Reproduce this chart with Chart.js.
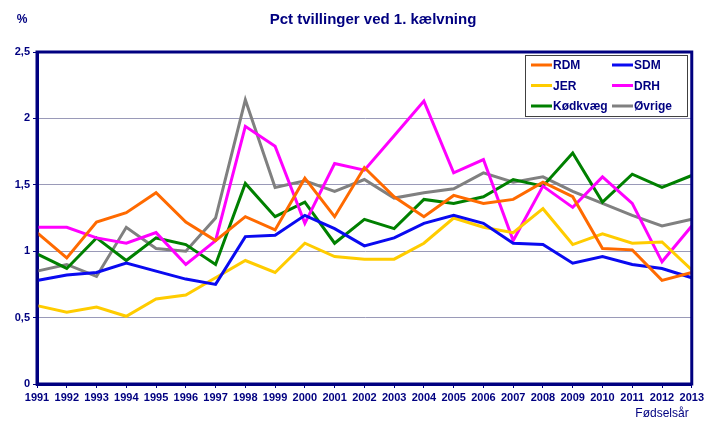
<!DOCTYPE html>
<html>
<head>
<meta charset="utf-8">
<title>Pct tvillinger ved 1. kælvning</title>
<script src="https://cdn.jsdelivr.net/npm/chart.js@4.4.1/dist/chart.umd.min.js"></script>
<style>
    html, body { margin: 0; padding: 0; background: #ffffff; }
    #wrap { width: 707px; height: 421px; }
</style>
</head>
<body>
<div id="wrap"><canvas id="twinChart" width="707" height="421"></canvas></div>
<script>
// Data for the chart
const years = ['1991', '1992', '1993', '1994', '1995', '1996', '1997', '1998', '1999', '2000', '2001', '2002',
    '2003', '2004', '2005', '2006', '2007', '2008', '2009', '2010', '2011', '2012', '2013'];
const rdmData = [1.14, 0.95, 1.22, 1.29, 1.44, 1.22, 1.08, 1.26, 1.16, 1.55, 1.26, 1.63, 1.41, 1.26, 1.42, 1.36, 1.39, 1.52, 1.41, 1.02, 1.01, 0.78, 0.84];
const sdmData = [0.78, 0.82, 0.84, 0.91, 0.85, 0.79, 0.75, 1.11, 1.12, 1.27, 1.17, 1.04, 1.10, 1.21, 1.27, 1.21, 1.06, 1.05, 0.91, 0.96, 0.90, 0.87, 0.80];
const jerData = [0.59, 0.54, 0.58, 0.51, 0.64, 0.67, 0.80, 0.93, 0.84, 1.06, 0.96, 0.94, 0.94, 1.06, 1.25, 1.18, 1.14, 1.32, 1.05, 1.13, 1.06, 1.07, 0.86];
const drhData = [1.18, 1.18, 1.10, 1.06, 1.14, 0.90, 1.08, 1.94, 1.79, 1.21, 1.66, 1.61, 1.87, 2.13, 1.59, 1.69, 1.08, 1.49, 1.33, 1.56, 1.36, 0.92, 1.19];
const kodData = [0.98, 0.87, 1.10, 0.93, 1.10, 1.05, 0.90, 1.51, 1.26, 1.37, 1.06, 1.24, 1.17, 1.39, 1.36, 1.41, 1.54, 1.49, 1.74, 1.37, 1.58, 1.48, 1.57];
const ovrigeData = [0.85, 0.90, 0.81, 1.18, 1.02, 1.00, 1.25, 2.14, 1.48, 1.53, 1.45, 1.54, 1.40, 1.44, 1.47, 1.59, 1.52, 1.56, 1.45, 1.36, 1.27, 1.19, 1.24];
const yTicks = [0, 0.5, 1, 1.5, 2, 2.5];

const navy = '#000080';
const font = 'Arial, "Liberation Sans", sans-serif';

function line(label, data, color) {
    return {
        label: label,
        data: data,
        borderColor: color,
        backgroundColor: color,
        borderWidth: 3,
        pointRadius: 0,
        tension: 0,
        fill: false
    };
}

// Title, frame, axis texts and the boxed legend inside the plot
const decorations = {
    id: 'decorations',
    afterDatasetsDraw(chart) {
        const ctx = chart.ctx;
        const area = chart.chartArea;
        ctx.save();

        // frame round the plot
        ctx.strokeStyle = navy;
        ctx.lineWidth = 3;
        ctx.strokeRect(area.left, area.top, area.right - area.left, area.bottom - area.top);

        // texts
        ctx.fillStyle = navy;
        ctx.textBaseline = 'middle';
        ctx.textAlign = 'center';
        ctx.font = 'bold 15px ' + font;
        ctx.fillText('Pct tvillinger ved 1. kælvning', 373, 20);
        ctx.font = 'bold 12px ' + font;
        ctx.fillText('%', 22, 20);
        ctx.font = '12px ' + font;
        ctx.fillText('Fødselsår', 662, 414);

        // legend box
        ctx.fillStyle = '#ffffff';
        ctx.fillRect(525, 55, 162, 61);
        ctx.strokeStyle = '#404040';
        ctx.lineWidth = 1;
        ctx.strokeRect(525.5, 55.5, 162, 61);
        ctx.textAlign = 'left';
        ctx.font = 'bold 12px ' + font;
        chart.data.datasets.forEach((ds, i) => {
            const col = i % 2;
            const row = Math.floor(i / 2);
            const x = 531 + col * 81;
            const y = 65 + row * 20.5;
            ctx.strokeStyle = ds.borderColor;
            ctx.lineWidth = 3;
            ctx.beginPath();
            ctx.moveTo(x, y);
            ctx.lineTo(x + 21, y);
            ctx.stroke();
            ctx.fillStyle = navy;
            ctx.fillText(ds.label, x + 22, y + 1);
        });
        ctx.restore();
    }
};

const ctxTwin = document.getElementById('twinChart').getContext('2d');
const twinChart = new Chart(ctxTwin, {
    type: 'line',
    data: {
        labels: years,
        datasets: [
            line('RDM', rdmData, '#FF6A00'),
            line('SDM', sdmData, '#0A0AF0'),
            line('JER', jerData, '#FFCC00'),
            line('DRH', drhData, '#FF00FF'),
            line('Kødkvæg', kodData, '#008000'),
            line('Øvrige', ovrigeData, '#808080')
        ]
    },
    options: {
        responsive: false,
        animation: false,
        layout: {
            autoPadding: false,
            padding: { top: 52, right: 12, left: 0, bottom: 0 }
        },
        plugins: {
            legend: { display: false },
            title: { display: false },
            tooltip: { enabled: false }
        },
        scales: {
            x: {
                offset: false,
                afterFit: (scale) => { scale.height = 37; },
                grid: {
                    drawOnChartArea: false,
                    drawTicks: true,
                    tickLength: 4,
                    tickColor: navy
                },
                border: { color: navy, width: 3 },
                ticks: {
                    color: navy,
                    font: { family: font, size: 11, weight: 'bold' },
                    maxRotation: 0,
                    autoSkip: false,
                    padding: 3
                }
            },
            y: {
                min: 0,
                max: 2.5,
                afterFit: (scale) => { scale.width = 37; },
                afterBuildTicks: (scale) => {
                    scale.ticks = yTicks.map(v => ({ value: v }));
                },
                grid: {
                    color: (c) => (c.tick && (c.tick.value === 0 || c.tick.value === 2.5)) ? 'rgba(0,0,0,0)' : '#9A9AB8',
                    lineWidth: 1,
                    drawTicks: true,
                    tickLength: 4,
                    tickColor: navy
                },
                border: { color: navy, width: 3 },
                ticks: {
                    color: navy,
                    font: { family: font, size: 11, weight: 'bold' },
                    padding: 3,
                    callback: (value) => String(value).replace('.', ',')
                }
            }
        }
    },
    plugins: [decorations]
});
</script>
</body>
</html>
